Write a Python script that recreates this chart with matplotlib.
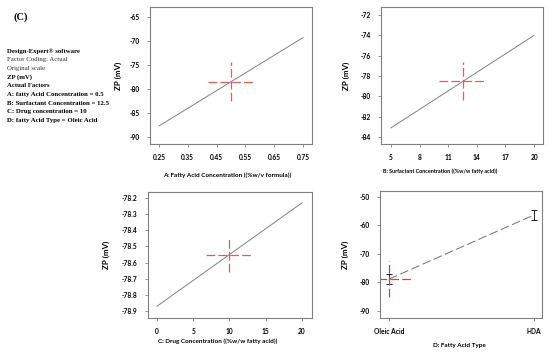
import numpy as np
import matplotlib
matplotlib.use("Agg")
import matplotlib.pyplot as plt

plt.rcParams["axes.unicode_minus"] = False
plt.rcParams["font.family"] = ["Lato", "DejaVu Sans"]

# panel A: fatty acid concentration
a_x = [0.25, 0.75]
a_zp = [-87.7, -69.3]
a_xticks = [0.25, 0.35, 0.45, 0.55, 0.65, 0.75]
a_yticks = [-65, -70, -75, -80, -85, -90]

# panel B: surfactant concentration
b_x = [5, 20]
b_zp = [-83.1, -74.0]
b_xticks = [5, 8, 11, 14, 17, 20]
b_yticks = [-72, -74, -76, -78, -80, -82, -84]

# panel C: drug concentration
c_x = [0, 20]
c_zp = [-78.87, -78.23]
c_xticks = [0, 5, 10, 15, 20]
c_yticks = [-78.2, -78.3, -78.4, -78.5, -78.6, -78.7, -78.8, -78.9]

# panel D: fatty acid type
d_types = ["Oleic Acid", "HDA"]
d_zp = [-78.8, -56.3]
d_err = [1.8, 1.9]
d_yticks = [-50, -60, -70, -80, -90]

# actual-factor crosshairs (centre x, centre y, half width, half height)
a_cross = (0.5, -78.45, 0.08, 4.0)
b_cross = (12.5, -78.5, 2.5, 1.9)
c_cross = (10, -78.55, 3.2, 0.11)
d_cross = (0, -78.8, 0.16, 6.4)

info_lines = [
    ("Design-Expert\u00ae software", "bold"),
    ("Factor Coding: Actual", "normal"),
    ("Original scale", "normal"),
    ("ZP (mV)", "bold"),
    ("Actual Factors", "bold"),
    ("A: fatty Acid Concentration = 0.5", "bold"),
    ("B: Surfactant Concentration = 12.5", "bold"),
    ("C: Drug concentration = 10", "bold"),
    ("D: fatty Acid Type = Oleic Acid", "bold"),
]

W, H = 550, 358
fig = plt.figure(figsize=(5.5, 3.58), dpi=100)


def box(l, r, t, b):
    return [l / W, (H - b) / H, (r - l) / W, (b - t) / H]


axA = fig.add_axes(box(150, 312, 7, 144))
axB = fig.add_axes(box(381, 543, 7, 144))
axC = fig.add_axes(box(148, 312, 192, 318))
axD = fig.add_axes(box(380, 542, 191, 318))

red = "#e85a5a"
grey = "#808080"


def style(ax, xticks, xlabels, yticks, ylabels, xlabel, xlab_pos, ylab_x, xsize=4.6):
    for s in ax.spines.values():
        s.set_color(grey)
        s.set_linewidth(0.8)
    ax.set_xticks(xticks)
    ax.set_xticklabels(xlabels, fontsize=4.8, fontweight="bold")
    ax.set_yticks(yticks)
    ax.set_yticklabels(ylabels, fontsize=4.8, fontweight="bold")
    ax.tick_params(length=2.5, width=0.6, color=grey, pad=5)
    ax.set_xlabel(xlabel, fontsize=xsize, fontweight="bold")
    ax.xaxis.set_label_coords(*xlab_pos)
    ax.set_ylabel("ZP (mV)", fontsize=5.8, fontweight="bold")
    ax.yaxis.set_label_coords(ylab_x, 0.5)


def cross(ax, c, color=red):
    cx, cy, hw, hh = c
    ax.plot([cx - hw, cx + hw], [cy, cy], color=color, lw=0.9, dashes=(7, 2.5))
    ax.plot([cx, cx], [cy - hh, cy + hh], color=color, lw=0.9, dashes=(7, 2.5))


# A
axA.plot(a_x, a_zp, color=grey, lw=0.7)
cross(axA, a_cross)
axA.set_xlim(0.2188, 0.7813)
axA.set_ylim(-91.46, -62.92)
style(axA, a_xticks, [f"{v:.2f}" for v in a_xticks], a_yticks, [f"{v}" for v in a_yticks],
      "A: Fatty Acid Concentration ((%w/v formula))", (0.475, -0.21), -0.17)

# B
axB.plot(b_x, b_zp, color=grey, lw=0.7)
cross(axB, b_cross)
axB.set_xlim(3.95, 20.94)
axB.set_ylim(-84.69, -71.21)
style(axB, b_xticks, [f"{v}" for v in b_xticks], b_yticks, [f"{v}" for v in b_yticks],
      "B: Surfactant Concentration ((%w/w fatty acid))", (0.364, -0.18), -0.19, xsize=3.9)

# C
axC.plot(c_x, c_zp, color=grey, lw=0.7)
cross(axC, c_cross)
axC.set_xlim(-1.24, 21.38)
axC.set_ylim(-78.943, -78.163)
style(axC, c_xticks, [f"{v}" for v in c_xticks], c_yticks, [f"{v:.1f}" for v in c_yticks],
      "C: Drug Concentration ((%w/w fatty acid))", (0.427, -0.16), -0.23)

# D
xd = np.arange(len(d_types))
axD.plot(xd, d_zp, color=grey, lw=0.8, dashes=(8, 3))
axD.errorbar(xd, d_zp, yerr=d_err, fmt="none", ecolor="black", elinewidth=0.6,
             capsize=2.5, capthick=0.6)
cross(axD, d_cross, color="#d84040")
axD.set_xlim(-0.062, 1.055)
axD.set_ylim(-92.46, -47.9)
style(axD, xd, d_types, d_yticks, [f"{v}" for v in d_yticks],
      "D: Fatty Acid Type", (0.488, -0.2), -0.19)

# info text on the left
fig.text(13 / W, 1 - 17 / H, "(C)", fontsize=7.5, fontweight="bold",
         family="Liberation Serif", va="center")
for i, (line, wt) in enumerate(info_lines):
    fig.text(7 / W, 1 - (51 + i * 8.7) / H, line, fontsize=4.9, fontweight=wt,
             family="Liberation Serif", va="center",
             color="#333333" if wt == "normal" else "black")

fig.savefig("out.png", dpi=100)
